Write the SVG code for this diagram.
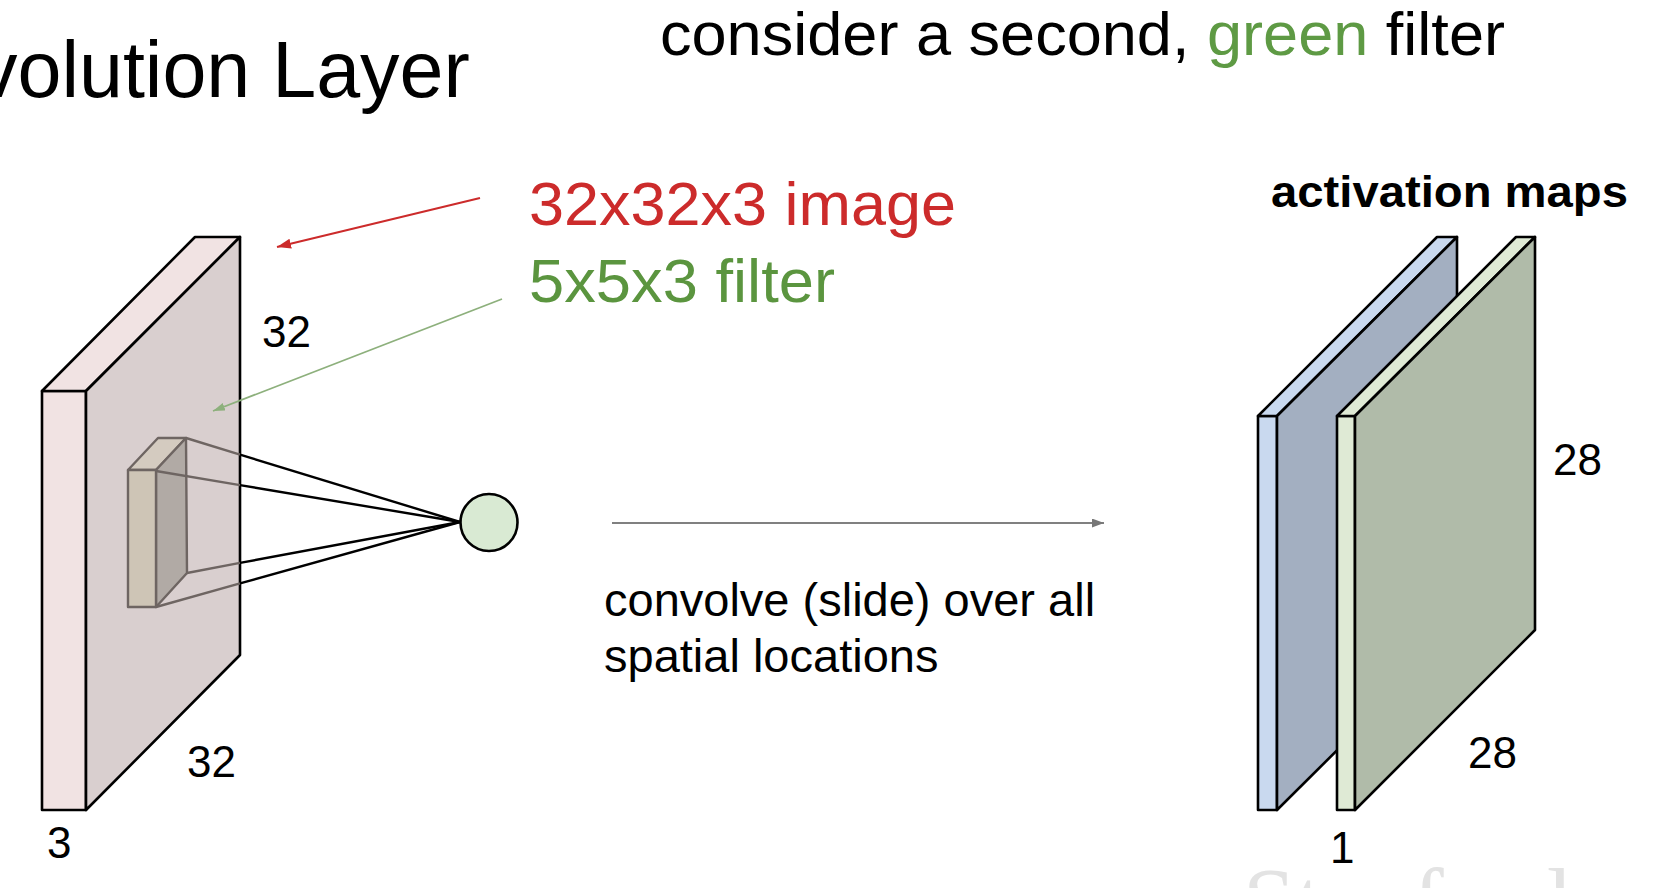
<svg xmlns="http://www.w3.org/2000/svg" width="1664" height="888" viewBox="0 0 1664 888">
<defs>
<style>
.t{font-family:"Liberation Sans",Arial,sans-serif;fill:#000}
.edge{stroke:#000;stroke-width:2.6;stroke-linejoin:round}
.fedge{stroke:#6e6562;stroke-width:2.4;stroke-linejoin:round}
.inner{stroke:#6e6562;stroke-width:2.4;fill:none}
.outer{stroke:#000;stroke-width:2.4;fill:none}
</style>
<marker id="ahRed" markerUnits="userSpaceOnUse" markerWidth="16" markerHeight="12" refX="14" refY="5" orient="auto">
<path d="M0,0 L14,5 L0,10 z" fill="#cc2b2b"/>
</marker>
<marker id="ahGreen" markerUnits="userSpaceOnUse" markerWidth="14" markerHeight="10" refX="12" refY="4" orient="auto">
<path d="M0,0 L12,4 L0,8 z" fill="#8db07c"/>
</marker>
<marker id="ahGrey" markerUnits="userSpaceOnUse" markerWidth="14" markerHeight="10" refX="12" refY="4.5" orient="auto">
<path d="M0,0 L12,4.5 L0,9 z" fill="#777"/>
</marker>
</defs>
<rect width="1664" height="888" fill="#fff"/>

<g id="watermark">
<text x="1243" y="934" font-family="Liberation Serif,serif" font-size="95" fill="#e3e3e3">Stanford</text>
</g>

<g id="title">
<text class="t" x="-22" y="97" font-size="79">volution Layer</text>
</g>

<g id="header">
<text class="t" x="660" y="55" font-size="62" textLength="845" lengthAdjust="spacingAndGlyphs">consider a second, <tspan fill="#5e9a44">green</tspan> filter</text>
</g>

<g id="image-volume">
<rect x="42" y="391" width="44" height="419" fill="#f1e3e3" class="edge"/>
<polygon points="42,391 195,237 240,237 86,391" fill="#f1e3e3" class="edge"/>
<polygon points="86,391 240,237 240,655 86,810" fill="#d9cfcf" class="edge"/>
<text class="t" x="262" y="347" font-size="44">32</text>
<text class="t" x="187" y="777" font-size="44">32</text>
<text class="t" x="47" y="858" font-size="44">3</text>
</g>

<g id="filter">
<polygon points="128,470 158,438 186,438 156,470" fill="#d4cbc0" class="fedge"/>
<polygon points="156,470 186,438 187,573 156,607" fill="#b1aaa5" class="fedge"/>
<rect x="128" y="470" width="28" height="137" fill="#cec5b6" class="fedge"/>
</g>

<g id="connectors">
<line class="inner" x1="186" y1="438" x2="240" y2="454.6"/>
<line class="inner" x1="156" y1="471" x2="240" y2="485.1"/>
<line class="inner" x1="187" y1="573" x2="240" y2="562.9"/>
<line class="inner" x1="156" y1="607" x2="240" y2="583.4"/>
<line class="outer" x1="240" y1="454.6" x2="460" y2="522"/>
<line class="outer" x1="240" y1="485.1" x2="460" y2="522"/>
<line class="outer" x1="240" y1="562.9" x2="460" y2="522"/>
<line class="outer" x1="240" y1="583.4" x2="460" y2="522"/>
<line x1="480" y1="198" x2="277" y2="247" stroke="#cc2b2b" stroke-width="2" marker-end="url(#ahRed)"/>
<line x1="502" y1="299" x2="213" y2="411" stroke="#8db07c" stroke-width="1.8" marker-end="url(#ahGreen)"/>
<line x1="612" y1="523" x2="1104" y2="523" stroke="#808080" stroke-width="2" marker-end="url(#ahGrey)"/>
</g>

<g id="neuron">
<circle cx="489" cy="522.5" r="28.5" fill="#d9ead3" stroke="#000" stroke-width="2.6"/>
</g>

<g id="label-image">
<text class="t" x="529" y="225" font-size="61" style="fill:#cc2b2b" textLength="427" lengthAdjust="spacingAndGlyphs">32x32x3 image</text>
</g>
<g id="label-filter">
<text class="t" x="529" y="302" font-size="61" style="fill:#5b953f" textLength="306" lengthAdjust="spacingAndGlyphs">5x5x3 filter</text>
</g>

<g id="caption">
<text class="t" x="604" y="616" font-size="47">convolve (slide) over all</text>
<text class="t" x="604" y="672" font-size="47">spatial locations</text>
</g>

<g id="activation-map-1">
<rect x="1258" y="416" width="19" height="394" fill="#c9d9ef" class="edge"/>
<polygon points="1258,416 1437,237 1457,237 1277,416" fill="#c9d9ef" class="edge"/>
<polygon points="1277,416 1457,237 1457,631 1277,810" fill="#a3afc1" class="edge"/>
</g>

<g id="activation-map-2">
<rect x="1337" y="416" width="18" height="394" fill="#dfead5" class="edge"/>
<polygon points="1337,416 1516,237 1535,237 1355,416" fill="#dfead5" class="edge"/>
<polygon points="1355,416 1535,237 1535,630 1355,810" fill="#b0bba9" class="edge"/>
</g>

<g id="activation-labels">
<text class="t" x="1271" y="207" font-size="45" font-weight="bold" textLength="357" lengthAdjust="spacingAndGlyphs">activation maps</text>
<text class="t" x="1553" y="475" font-size="44">28</text>
<text class="t" x="1468" y="768" font-size="44">28</text>
<text class="t" x="1330" y="863" font-size="44">1</text>
</g>
</svg>
